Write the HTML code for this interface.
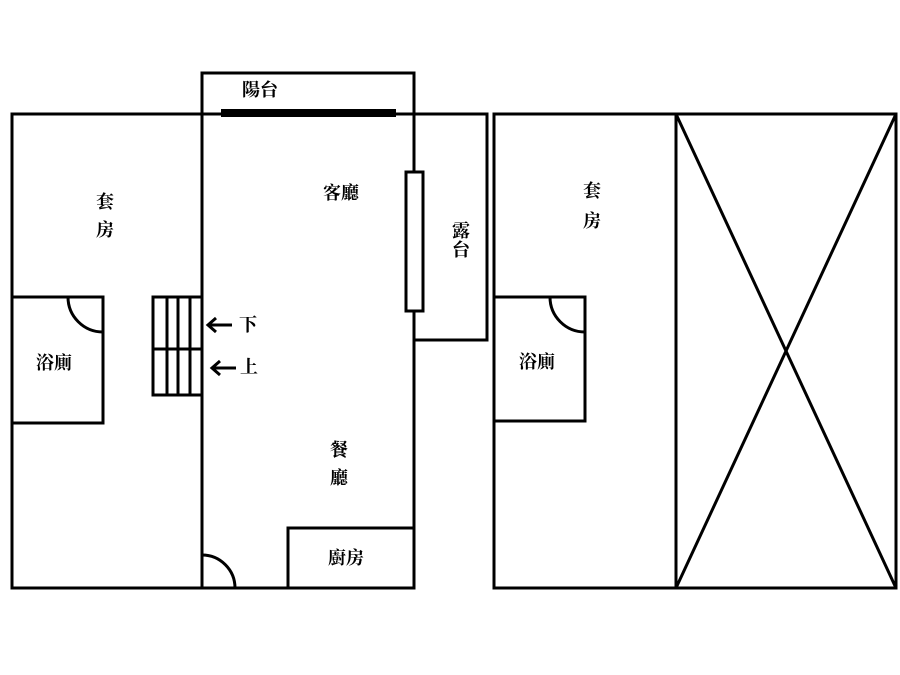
<!DOCTYPE html>
<html><head><meta charset="utf-8"><style>
html,body{margin:0;padding:0;background:#fff;width:900px;height:675px;overflow:hidden}
text{font-family:"Liberation Serif","Noto Serif CJK SC",serif;font-size:18px;font-weight:bold;fill:#000}
</style></head><body>
<svg width="900" height="675" viewBox="0 0 900 675" xmlns="http://www.w3.org/2000/svg">
<g fill="none" stroke="#000" stroke-width="3">
<rect x="12" y="114" width="402" height="474"/>
<rect x="202" y="73" width="212" height="515"/>
<rect x="414" y="114" width="73" height="226"/>
<rect x="406" y="172" width="17" height="139" fill="#fff"/>
<rect x="12" y="297" width="91" height="126"/>
<path d="M68 297 A35 35 0 0 0 103 332"/>
<path d="M202 555 A33 33 0 0 1 235 588"/>
<rect x="288" y="528" width="126" height="60"/>
<rect x="153" y="297" width="49" height="98"/>
<line x1="153" y1="349" x2="202" y2="349"/>
<line x1="167" y1="297" x2="167" y2="395"/>
<line x1="178" y1="297" x2="178" y2="395"/>
<line x1="190" y1="297" x2="190" y2="395"/>
<rect x="494" y="114" width="402" height="474"/>
<line x1="676" y1="114" x2="676" y2="588"/>
<line x1="676" y1="114" x2="896" y2="588"/>
<line x1="896" y1="114" x2="676" y2="588"/>
<rect x="494" y="297" width="91" height="124"/>
<path d="M550 297 A35 35 0 0 0 585 332"/>
</g>
<rect x="221" y="109" width="175" height="8" fill="#000"/>
<g stroke="#000" stroke-width="3" fill="none">
<line x1="208" y1="325" x2="232" y2="325"/><path d="M216 318 L208 325 L216 332"/>
<line x1="212" y1="368" x2="236" y2="368"/><path d="M220 361 L212 368 L220 375"/>
</g>
<text x="242" y="96" font-size="15">陽台</text>
<text x="323" y="199">客廳</text>
<text x="452" y="237" font-size="15">露</text>
<text x="452" y="256" font-size="15">台</text>
<text x="96" y="208">套</text>
<text x="96" y="236">房</text>
<text x="36" y="369">浴廁</text>
<text x="239" y="331" font-size="14">下</text>
<text x="240" y="373" font-size="14">上</text>
<text x="330" y="456">餐</text>
<text x="330" y="484">廳</text>
<text x="328" y="564">廚房</text>
<text x="583" y="197">套</text>
<text x="583" y="227">房</text>
<text x="519" y="368">浴廁</text>
</svg>
</body></html>
